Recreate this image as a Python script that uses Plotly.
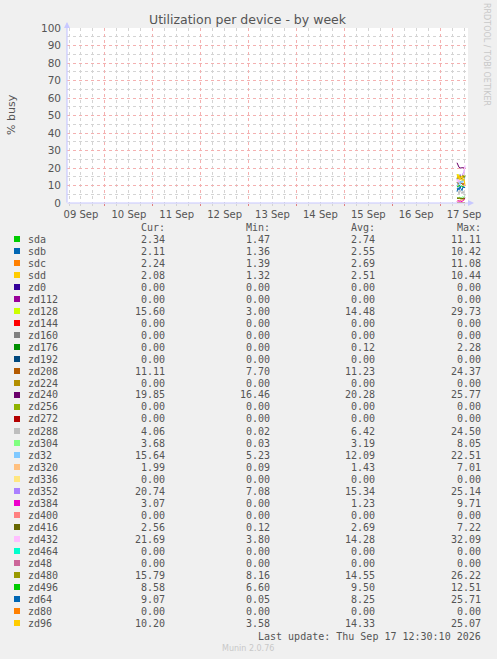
import plotly.graph_objects as go

W, H = 497, 659
# plot area in pixels
PX0, PX1 = 67, 468
PY0, PY1 = 28, 203

devices = ["sda", "sdb", "sdc", "sdd", "zd0", "zd112", "zd128", "zd144", "zd160",
           "zd176", "zd192", "zd208", "zd224", "zd240", "zd256", "zd272", "zd288",
           "zd304", "zd32", "zd320", "zd336", "zd352", "zd384", "zd400", "zd416",
           "zd432", "zd464", "zd48", "zd480", "zd496", "zd64", "zd80", "zd96"]

colors = ["#00CC00", "#0066B3", "#FF8000", "#FFCC00", "#330099", "#990099", "#CCFF00",
          "#FF0000", "#808080", "#008F00", "#00487D", "#B35A00", "#B38F00", "#6B006B",
          "#8FB300", "#B30000", "#BEBEBE", "#80FF80", "#80C9FF", "#FFC080", "#FFE680",
          "#AA80FF", "#EE00CC", "#FF8080", "#666600", "#FFBFFF", "#00FFCC", "#CC6699",
          "#999900", "#00CC00", "#0066B3", "#FF8000", "#FFCC00"]

cur = ["2.34", "2.11", "2.24", "2.08", "0.00", "0.00", "15.60", "0.00", "0.00", "0.00",
       "0.00", "11.11", "0.00", "19.85", "0.00", "0.00", "4.06", "3.68", "15.64", "1.99",
       "0.00", "20.74", "3.07", "0.00", "2.56", "21.69", "0.00", "0.00", "15.79", "8.58",
       "9.07", "0.00", "10.20"]
mins = ["1.47", "1.36", "1.39", "1.32", "0.00", "0.00", "3.00", "0.00", "0.00", "0.00",
        "0.00", "7.70", "0.00", "16.46", "0.00", "0.00", "0.02", "0.03", "5.23", "0.09",
        "0.00", "7.08", "0.00", "0.00", "0.12", "3.80", "0.00", "0.00", "8.16", "6.60",
        "0.05", "0.00", "3.58"]
avgs = ["2.74", "2.55", "2.69", "2.51", "0.00", "0.00", "14.48", "0.00", "0.00", "0.12",
        "0.00", "11.23", "0.00", "20.28", "0.00", "0.00", "6.42", "3.19", "12.09", "1.43",
        "0.00", "15.34", "1.23", "0.00", "2.69", "14.28", "0.00", "0.00", "14.55", "9.50",
        "8.25", "0.00", "14.33"]
maxs = ["11.11", "10.42", "11.08", "10.44", "0.00", "0.00", "29.73", "0.00", "0.00", "2.28",
        "0.00", "24.37", "0.00", "25.77", "0.00", "0.00", "24.50", "8.05", "22.51", "7.01",
        "0.00", "25.14", "9.71", "0.00", "7.22", "32.09", "0.00", "0.00", "26.22", "12.51",
        "25.71", "0.00", "25.07"]

times = ["2026-09-17 08:30", "2026-09-17 09:00", "2026-09-17 09:30", "2026-09-17 10:00",
         "2026-09-17 10:30", "2026-09-17 11:00", "2026-09-17 11:30", "2026-09-17 12:00",
         "2026-09-17 12:30"]

zero = [0, 0, 0, 0, 0, 0, 0, 0, 0]
series = {
    "sda": [3.1, 2.9, 2.6, 2.8, 2.5, 2.7, 2.4, 2.6, 2.34],
    "sdb": [2.9, 2.7, 2.5, 2.6, 2.4, 2.5, 2.2, 2.4, 2.11],
    "sdc": [3.0, 2.8, 2.6, 2.7, 2.5, 2.6, 2.3, 2.5, 2.24],
    "sdd": [2.8, 2.6, 2.5, 2.6, 2.3, 2.5, 2.2, 2.4, 2.08],
    "zd128": [14.0, 16.5, 13.2, 15.1, 14.4, 12.8, 15.9, 14.2, 15.60],
    "zd176": [0.3, 0.2, 0.1, 0, 0, 0, 0, 0, 0],
    "zd208": [12.0, 10.5, 11.8, 12.4, 10.9, 11.5, 10.2, 11.6, 11.11],
    "zd240": [23.0, 21.5, 20.4, 20.1, 19.9, 20.3, 20.0, 20.2, 19.85],
    "zd288": [8.5, 6.2, 5.1, 7.4, 6.0, 5.3, 6.8, 5.0, 4.06],
    "zd304": [3.0, 2.6, 3.4, 3.1, 2.9, 3.5, 3.2, 3.3, 3.68],
    "zd32": [9.5, 11.8, 13.2, 10.4, 12.6, 11.5, 13.9, 12.1, 15.64],
    "zd320": [1.2, 1.5, 1.1, 1.6, 1.3, 1.4, 1.2, 1.7, 1.99],
    "zd352": [13.0, 15.2, 14.1, 16.4, 15.0, 13.6, 16.8, 17.9, 20.74],
    "zd384": [0.8, 1.4, 0.9, 1.2, 1.0, 0.7, 1.5, 1.8, 3.07],
    "zd416": [2.8, 2.5, 2.9, 2.6, 2.7, 2.4, 2.8, 2.7, 2.56],
    "zd432": [12.0, 13.5, 11.8, 14.9, 13.2, 15.6, 14.0, 17.8, 21.69],
    "zd480": [13.8, 15.2, 14.0, 15.6, 14.1, 13.7, 15.9, 14.4, 15.79],
    "zd496": [9.8, 9.2, 10.1, 9.6, 9.4, 9.9, 9.1, 9.3, 8.58],
    "zd64": [6.5, 8.8, 7.4, 9.6, 8.0, 7.1, 9.3, 8.6, 9.07],
    "zd96": [16.5, 14.2, 15.8, 13.1, 14.9, 15.5, 12.8, 13.9, 10.20],
}

x_range = ["2026-09-09 05:00", "2026-09-17 14:00"]
y_ticks = [0, 10, 20, 30, 40, 50, 60, 70, 80, 90, 100]


def px(x):
    return (x - PX0) / (PX1 - PX0)


def py(y):
    return (PY1 - y) / (PY1 - PY0)


TXT = "#555555"
MONO = "DejaVu Sans Mono"

fig = go.Figure()
for name, col in zip(devices, colors):
    fig.add_trace(go.Scatter(x=times, y=series.get(name, zero), mode="lines",
                             line=dict(color=col, width=1), name=name,
                             showlegend=False, hoverinfo="skip"))

annotations = []
shapes = []

# legend table
for head, xr in zip(["Cur:", "Min:", "Avg:", "Max:"], [167, 272, 377, 483]):
    annotations.append(dict(x=px(xr), y=py(227), xref="paper", yref="paper", text=head,
                            xanchor="right", yanchor="middle", showarrow=False))
for i, name in enumerate(devices):
    yy = 239 + 12 * i
    shapes.append(dict(type="rect", xref="paper", yref="paper",
                       x0=px(14), x1=px(20), y0=py(yy - 3), y1=py(yy + 3),
                       fillcolor=colors[i], line=dict(width=0)))
    annotations.append(dict(x=px(26), y=py(yy), xref="paper", yref="paper", text=name,
                            xanchor="left", yanchor="middle", showarrow=False))
    for val, xr in zip([cur[i], mins[i], avgs[i], maxs[i]], [167, 272, 377, 483]):
        annotations.append(dict(x=px(xr), y=py(yy), xref="paper", yref="paper", text=val,
                                xanchor="right", yanchor="middle", showarrow=False))

annotations.append(dict(x=px(483), y=py(636), xref="paper", yref="paper",
                        text="Last update: Thu Sep 17 12:30:10 2026",
                        xanchor="right", yanchor="middle", showarrow=False))
annotations.append(dict(x=px(248), y=py(648), xref="paper", yref="paper",
                        text="Munin 2.0.76", font=dict(family="DejaVu Sans", size=8, color="#c8c8c8"),
                        xanchor="center", yanchor="middle", showarrow=False))
annotations.append(dict(x=px(487), y=py(54), xref="paper", yref="paper",
                        text="RRDTOOL / TOBI OETIKER", textangle=90,
                        font=dict(family="DejaVu Sans", size=8, color="#c8c8c8"),
                        xanchor="center", yanchor="middle", showarrow=False))
annotations.append(dict(x=px(11), y=py(115), xref="paper", yref="paper",
                        text="% busy", textangle=-90,
                        font=dict(family="DejaVu Sans", size=11, color=TXT),
                        xanchor="center", yanchor="middle", showarrow=False))
annotations.append(dict(x=px(248), y=py(19), xref="paper", yref="paper",
                        text="Utilization per device - by week",
                        font=dict(family="DejaVu Sans", size=12.5, color=TXT),
                        xanchor="center", yanchor="middle", showarrow=False))
# axis arrows
annotations.append(dict(x=px(474), y=0, xref="paper", yref="paper", ax=-408, ay=0,
                        axref="pixel", ayref="pixel", text="", showarrow=True,
                        arrowhead=2, arrowsize=1, arrowwidth=1.2, arrowcolor="#c8c8ff"))
annotations.append(dict(x=0, y=py(22), xref="paper", yref="paper", ax=0, ay=182,
                        axref="pixel", ayref="pixel", text="", showarrow=True,
                        arrowhead=2, arrowsize=1, arrowwidth=1.2, arrowcolor="#c8c8ff"))

fig.update_layout(
    width=W, height=H,
    margin=dict(l=PX0, r=W - PX1, t=PY0, b=H - PY1, pad=0),
    paper_bgcolor="#f0f0f0", plot_bgcolor="#ffffff",
    font=dict(family=MONO, size=10, color=TXT),
    annotations=annotations, shapes=shapes,
    xaxis=dict(type="date", range=x_range, showline=False, zeroline=False,
               tick0="2026-09-09 00:00", dtick=86400000, tickformat="%d %b",
               ticklabelmode="period", ticks="outside", ticklen=2, tickcolor="#e08080",
               showgrid=True, gridcolor="#f4b0b0", griddash="dot", gridwidth=1,
               tickfont=dict(family="DejaVu Sans", size=10, color=TXT),
               minor=dict(dtick=21600000, showgrid=True, gridcolor="#d4d4d4",
                          griddash="dot", gridwidth=1, ticks="outside", ticklen=2,
                          tickcolor="#d4d4d4"),
               fixedrange=True),
    yaxis=dict(range=[0, 100], tickvals=y_ticks, showline=False, zeroline=False,
               ticks="", showgrid=True, gridcolor="#f4b0b0", griddash="dot", gridwidth=1,
               ticklabelstandoff=5,
               tickfont=dict(family="DejaVu Sans", size=10.5, color=TXT),
               minor=dict(dtick=5, showgrid=True, gridcolor="#d4d4d4", griddash="dot",
                          gridwidth=1),
               fixedrange=True),
)

fig.write_html("out.html", config={"displayModeBar": False},
               post_script="document.body.style.margin='0';")
